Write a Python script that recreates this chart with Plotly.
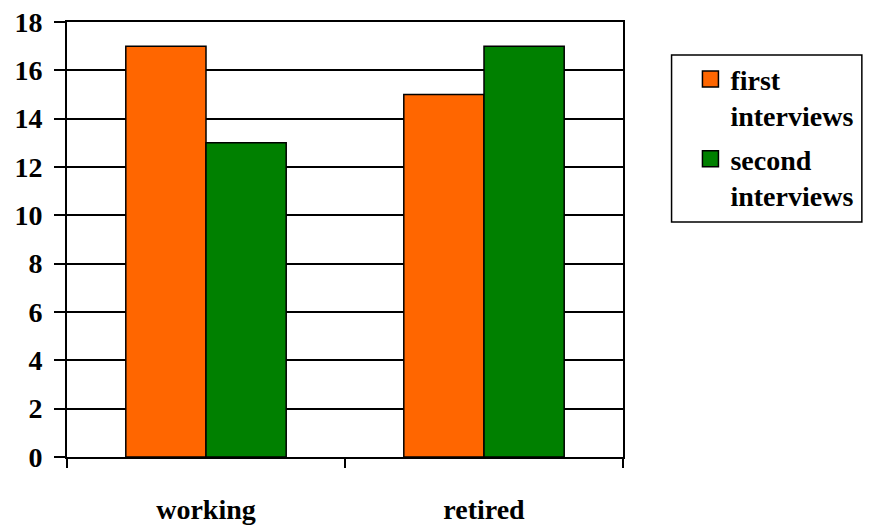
import plotly.graph_objects as go

# Interview counts by employment status
groups = ["working", "retired"]
first_interviews = [17, 15]
second_interviews = [13, 17]
y_ticks = [0, 2, 4, 6, 8, 10, 12, 14, 16, 18]

series = [
    ("first<br>interviews", first_interviews, "#FF6600"),
    ("second<br>interviews", second_interviews, "#008000"),
]

FONT = "serif"
BLACK = "#000000"
TEXT_FONT = dict(family=FONT, size=28, color=BLACK)


def bold(s):
    return f"<b>{s}</b>"


fig = go.Figure()
for i, (name, values, color) in enumerate(series):
    fig.add_trace(go.Bar(
        x=groups, y=values, name=bold(name), showlegend=False,
        marker=dict(color=color, line=dict(color=BLACK, width=1.5)),
    ))
    # legend key with a larger square swatch
    fig.add_trace(go.Scatter(
        x=[None], y=[None], name=bold(name), mode="markers", legendgroup=f"g{i}",
        marker=dict(symbol="square", size=16, color=color,
                    line=dict(color=BLACK, width=1.5)),
    ))

fig.update_layout(
    width=870, height=528,
    margin=dict(l=67, r=242, t=22, b=71),
    paper_bgcolor="white", plot_bgcolor="white",
    barmode="group", bargap=0.423, bargroupgap=0,
    showlegend=True,
    legend=dict(
        x=1.1213, xanchor="left", y=0.926, yanchor="top",
        valign="top", borderwidth=0, bgcolor="rgba(0,0,0,0)",
        font=TEXT_FONT,
        tracegroupgap=4,
    ),
    shapes=[dict(
        type="rect", xref="paper", yref="paper",
        x0=(677 - 67) / 561, x1=(869 - 67) / 561,
        y0=1 - (222 - 22) / 435, y1=1 - (55 - 22) / 435,
        line=dict(color=BLACK, width=1.5), fillcolor="rgba(0,0,0,0)",
    )],
)

fig.update_xaxes(
    automargin=False,
    tickvals=groups, ticktext=[bold(g) for g in groups],
    showline=True, linecolor=BLACK, linewidth=2, mirror=True,
    ticks="outside", tickson="boundaries", ticklen=9, tickwidth=2, tickcolor=BLACK,
    ticklabelstandoff=26,
    tickfont=TEXT_FONT,
    showgrid=False,
)
fig.update_yaxes(
    automargin=False,
    range=[0, 18], tickvals=y_ticks, ticktext=[bold(v) for v in y_ticks],
    showline=True, linecolor=BLACK, linewidth=2, mirror=True,
    ticks="outside", ticklen=11, tickwidth=2, tickcolor=BLACK,
    ticklabelstandoff=6,
    showgrid=True, gridcolor=BLACK, gridwidth=1.5,
    tickfont=TEXT_FONT,
    zeroline=False,
)

fig.write_html("out.html")
